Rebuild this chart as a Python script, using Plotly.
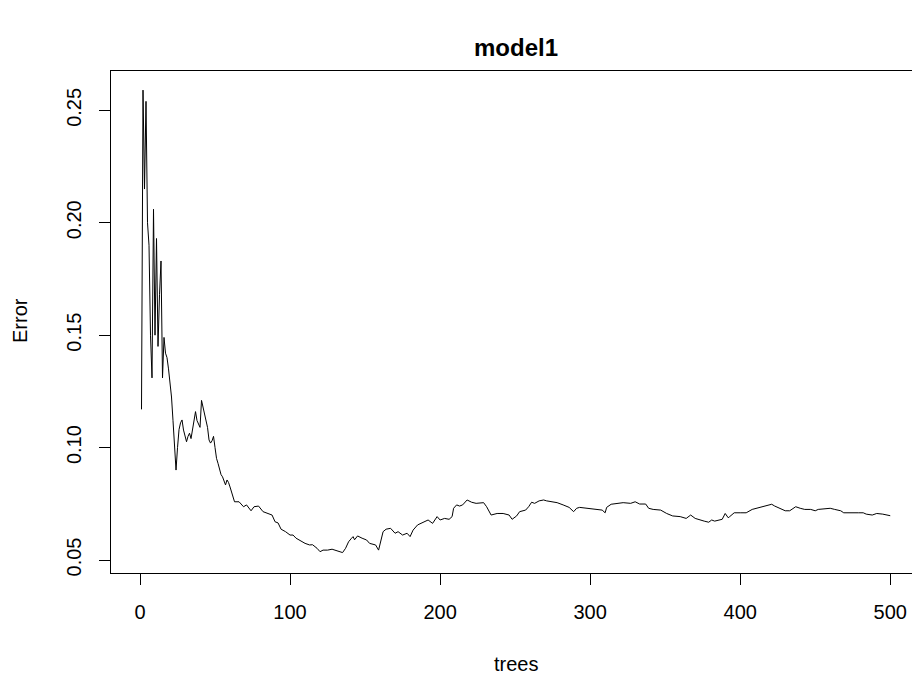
import plotly.graph_objects as go

# Trees (x) and OOB error (y)
trees = list(range(1, 64)) + [
    66, 69, 71, 74, 76, 79, 82, 84, 88, 90, 92, 94, 97, 100, 102, 104, 107, 110,
    113, 115, 118, 120, 122, 125, 128, 130, 132, 135, 137, 139, 141, 142, 143, 145,
    148, 151, 153, 157, 159, 160, 162, 164, 167, 170, 172, 175, 178, 180, 182, 185,
    189, 192, 195, 198, 200, 203, 206, 208, 209, 211, 213, 215, 218, 221, 224, 229,
    231, 234, 238, 242, 246, 248, 251, 253, 257, 259, 261, 263, 266, 269, 271, 274,
    278, 282, 286, 289, 291, 293, 298, 301, 304, 308, 310, 311, 314, 318, 322, 327,
    330, 333, 337, 339, 342, 347, 351, 355, 360, 364, 367, 370, 373, 376, 379, 381,
    383, 386, 388, 390, 392, 393, 396, 400, 404, 408, 411, 414, 419, 421, 423, 427,
    430, 433, 437, 440, 443, 447, 450, 452, 455, 460, 463, 467, 469, 472, 475, 479,
    482, 484, 488, 491, 495, 500,
]
error = [
    0.117, 0.259, 0.215, 0.254, 0.200, 0.190, 0.150, 0.131, 0.206, 0.150,
    0.193, 0.145, 0.168, 0.183, 0.131, 0.149, 0.142, 0.140, 0.135, 0.130,
    0.1225, 0.112, 0.0976, 0.090, 0.100, 0.108, 0.111, 0.1123, 0.1078, 0.105,
    0.1026, 0.105, 0.1064, 0.104, 0.108, 0.111, 0.116, 0.112, 0.110, 0.109,
    0.121, 0.118, 0.116, 0.112, 0.109, 0.1034, 0.102, 0.103, 0.105, 0.100,
    0.0952, 0.093, 0.090, 0.088, 0.087, 0.085, 0.0834, 0.0856, 0.0845, 0.0825,
    0.080, 0.0774, 0.0759,
    0.0759, 0.0737, 0.0745, 0.0719, 0.0737, 0.074, 0.0715, 0.071, 0.070, 0.067,
    0.0665, 0.0637, 0.0626, 0.0611, 0.0611, 0.0597, 0.0586, 0.0574,
    0.0567, 0.0568, 0.0552, 0.0537, 0.0544, 0.0544, 0.0548, 0.0544, 0.0537, 0.0533,
    0.0552, 0.0581, 0.0597, 0.0604, 0.059, 0.0607,
    0.0597, 0.0589, 0.0574, 0.0567, 0.0544, 0.0574, 0.0626, 0.0637, 0.0641, 0.0619,
    0.0626, 0.0611, 0.0619, 0.0604, 0.0633, 0.0656,
    0.067, 0.0678, 0.0663, 0.0693, 0.0678, 0.0685, 0.0681, 0.0693, 0.073, 0.0745,
    0.074, 0.0745, 0.0767, 0.0757, 0.0752, 0.0755,
    0.0737, 0.070, 0.0707, 0.0707, 0.070, 0.0681, 0.0696, 0.0715, 0.0722, 0.0737,
    0.0757, 0.0752, 0.0763, 0.0767, 0.0763, 0.0759,
    0.0755, 0.0745, 0.0734, 0.0715, 0.073, 0.0734, 0.073, 0.073, 0.0725, 0.0722,
    0.071, 0.0734, 0.0748, 0.0752, 0.0755, 0.0752,
    0.0759, 0.0749, 0.0749, 0.073, 0.0725, 0.0722, 0.0707, 0.0696, 0.0693, 0.0685,
    0.070, 0.0685, 0.0678, 0.0673, 0.0668, 0.0678,
    0.0673, 0.0678, 0.0681, 0.0707, 0.0688, 0.0693, 0.071, 0.071, 0.071, 0.0725,
    0.073, 0.0734, 0.0745, 0.0748, 0.074, 0.073,
    0.0719, 0.0719, 0.0737, 0.073, 0.0725, 0.0725, 0.0719, 0.0725, 0.0727, 0.073,
    0.0725, 0.0719, 0.071, 0.0711, 0.0711, 0.071,
    0.071, 0.0704, 0.070, 0.0707, 0.0704, 0.0697,
]

x_ticks = [0, 100, 200, 300, 400, 500]
y_ticks = [0.05, 0.10, 0.15, 0.20, 0.25]

FONT = "Liberation Sans, Arial, sans-serif"

fig = go.Figure()
fig.add_trace(go.Scatter(
    x=trees, y=error, mode="lines",
    line=dict(color="black", width=1),
    hoverinfo="skip", showlegend=False,
))

fig.update_layout(
    width=912, height=679,
    margin=dict(l=111, r=0, t=71, b=106),
    paper_bgcolor="white", plot_bgcolor="white",
    font=dict(family=FONT, size=20, color="black"),
    xaxis=dict(
        range=[-19.33, 514.5], tickvals=x_ticks, ticktext=[str(v) for v in x_ticks],
        ticks="outside", ticklen=11, tickcolor="black", tickwidth=1,
        showline=True, linecolor="black", linewidth=1, mirror=True,
        showgrid=False, zeroline=False, ticklabelstandoff=10,
        tickfont=dict(family=FONT, size=20, color="black"),
    ),
    yaxis=dict(
        range=[0.04422, 0.2675], tickvals=y_ticks, ticktext=[f"{v:.2f}" for v in y_ticks],
        ticks="outside", ticklen=11, tickcolor="black", tickwidth=1,
        showline=True, linecolor="black", linewidth=1, mirror=False,
        showgrid=False, zeroline=False, tickangle=-90, ticklabelstandoff=10,
        tickfont=dict(family=FONT, size=20, color="black"),
    ),
    annotations=[
        dict(text="<b>model1</b>", xref="paper", yref="paper",
             x=(516 - 111) / 801, y=1 + (71 - 47) / 502, xanchor="center", yanchor="middle",
             showarrow=False, font=dict(family=FONT, size=24, color="black")),
        dict(text="trees", xref="paper", yref="paper",
             x=(516 - 111) / 801, y=-(664 - 573) / 502, xanchor="center", yanchor="middle",
             showarrow=False, font=dict(family=FONT, size=20, color="black")),
        dict(text="Error", xref="paper", yref="paper", textangle=-90,
             x=-(111 - 20) / 801, y=(573 - 321) / 502, xanchor="center", yanchor="middle",
             showarrow=False, font=dict(family=FONT, size=20, color="black")),
    ],
)

fig.write_html("out.html")
